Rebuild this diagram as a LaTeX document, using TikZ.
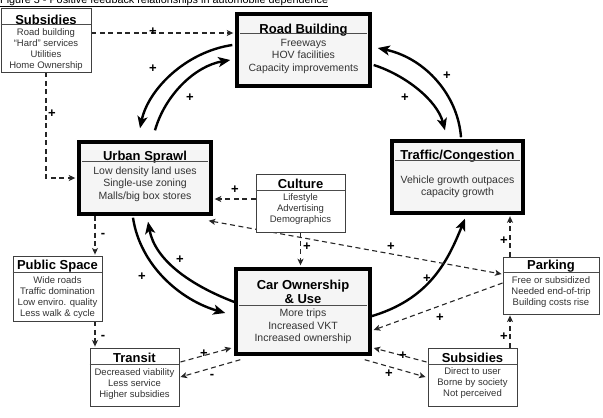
\documentclass[tikz,border=0pt]{standalone}
\usepackage{fontspec}
\setmainfont{Liberation Sans}
\usetikzlibrary{arrows.meta,calc}
\pgfdeclarelayer{bg}
\pgfsetlayers{bg,main}
\begin{document}
\begin{tikzpicture}[x=1pt,y=-1pt,
  bigbox/.style={draw=black, line width=3.4pt, fill=gray!8, inner sep=0pt},
  smbox/.style={draw=black!75, line width=0.9pt, fill=white, inner sep=0pt},
  ttl/.style={font=\bfseries\fontsize{13}{14}\selectfont, inner sep=0pt, align=center},
  bbody/.style={font=\fontsize{10.5}{12.5}\selectfont, text=black!80, inner sep=0pt, align=center},
  sbody/.style={font=\fontsize{9.5}{11}\selectfont, text=black!80, inner sep=0pt, align=center},
  hrule/.style={draw=black!70, line width=0.8pt},
  solidarrow/.style={line width=2.4pt, -{Stealth[length=12pt,width=10pt,inset=3pt]}},
  dasharrow/.style={line width=1.1pt, dash pattern=on 5pt off 3.5pt, draw=black!85, -{Stealth[length=6.5pt,width=6pt,inset=1.5pt]}},
  sign/.style={font=\bfseries\fontsize{13}{13}\selectfont, inner sep=0pt}
]
\useasboundingbox (0,0) rectangle (603,418);
\clip (0,0) rectangle (603,418);

% title (cut at top, as in the reference)
\node[anchor=base west, inner sep=0pt, font=\fontsize{10.5}{12}\selectfont] (fig) at (0,3)
  {\resizebox{328pt}{!}{\underline{Figure 3 - Positive feedback relationships in automobile dependence}}};

% ---------- big boxes ----------
\node[bigbox, minimum width=133pt, minimum height=72pt] (rb) at (303.5,50) {};
\node[ttl] (rbt) at (303.5,30) {Road Building};
\draw[hrule] ($(rb.north west)+(5,21.5)$) -- ($(rb.north east)+(-5,21.5)$);
\node[bbody] (rbb) at (303.5,56) {Freeways\\HOV facilities\\Capacity improvements};

\node[bigbox, minimum width=132pt, minimum height=72pt] (us) at (145,178) {};
\node[ttl] (ust) at (145,157) {Urban Sprawl};
\draw[hrule] ($(us.north west)+(5,21)$) -- ($(us.north east)+(-5,21)$);
\node[bbody] (usb) at (145,184) {Low density land uses\\Single-use zoning\\Malls/big box stores};

\node[bigbox, minimum width=131pt, minimum height=72pt] (tr) at (457.5,177) {};
\node[ttl] (trt) at (457.5,156.5) {Traffic/Congestion};
\draw[hrule] ($(tr.north west)+(5,21)$) -- ($(tr.north east)+(-5,21)$);
\node[bbody] (trb) at (457.5,187) {Vehicle growth outpaces\\capacity growth};

\node[bigbox, minimum width=134pt, minimum height=85pt] (car) at (303,311.5) {};
\node[ttl] (cart) at (303,291.5) {Car Ownership\\\& Use};
\draw[hrule] ($(car.north west)+(5,38)$) -- ($(car.north east)+(-5,38)$);
\node[bbody] (carb) at (303,326.5) {More trips\\Increased VKT\\Increased ownership};

% ---------- small boxes ----------
\node[smbox, minimum width=90pt, minimum height=64pt] (s1) at (46,40) {};
\node[ttl] (s1t) at (46,20) {Subsidies};
\draw[hrule] ($(s1.north west)+(0,17)$) -- ($(s1.north east)+(0,17)$);
\node[sbody] (s1b) at (46,49.5) {Road building\\``Hard'' services\\Utilities\\Home Ownership};

\node[smbox, minimum width=89pt, minimum height=58pt] (cu) at (300.5,203) {};
\node[ttl] (cut) at (300.5,184) {Culture};
\draw[hrule] ($(cu.north west)+(0,17)$) -- ($(cu.north east)+(0,17)$);
\node[sbody] (cub) at (300.5,209.5) {Lifestyle\\Advertising\\Demographics};

\node[smbox, minimum width=89pt, minimum height=65pt] (ps) at (57.5,288.5) {};
\node[ttl] (pst) at (57.5,266.5) {Public Space};
\draw[hrule] ($(ps.north west)+(0,17)$) -- ($(ps.north east)+(0,17)$);
\node[sbody] (psb) at (57.5,298) {Wide roads\\Traffic domination\\Low enviro. quality\\Less walk \& cycle};

\node[smbox, minimum width=89pt, minimum height=58pt] (tn) at (134.5,377) {};
\node[ttl] (tnt) at (134.5,357.5) {Transit};
\draw[hrule] ($(tn.north west)+(0,17)$) -- ($(tn.north east)+(0,17)$);
\node[sbody] (tnb) at (134.5,384.5) {Decreased viability\\Less service\\Higher subsidies};

\node[smbox, minimum width=96pt, minimum height=57pt] (pk) at (551,285.5) {};
\node[ttl] (pkt) at (551,266.5) {Parking};
\draw[hrule] ($(pk.north west)+(0,16)$) -- ($(pk.north east)+(0,16)$);
\node[sbody] (pkb) at (551,292.5) {Free or subsidized\\Needed end-of-trip\\Building costs rise};

\node[smbox, minimum width=89pt, minimum height=58pt] (s2) at (472.5,377) {};
\node[ttl] (s2t) at (472.5,357.5) {Subsidies};
\draw[hrule] ($(s2.north west)+(0,17)$) -- ($(s2.north east)+(0,17)$);
\node[sbody] (s2b) at (472.5,383.5) {Direct to user\\Borne by society\\Not perceived};

% ---------- connectors ----------
\begin{pgfonlayer}{bg}
% solid feedback loops
\draw[solidarrow] ([xshift=-3pt,yshift=5pt]rb.west) .. controls (185,52) and (148,90) .. ([xshift=-5pt,yshift=12pt]us.north);
\draw[solidarrow] ([xshift=10pt,yshift=10pt]us.north) .. controls (165,95) and (195,66) .. ([xshift=-5pt,yshift=-10pt]rb.west);
\draw[solidarrow] ([xshift=3.5pt,yshift=2pt]tr.north) .. controls (458,95) and (425,58) .. ([xshift=6pt,yshift=2pt]rb.east);
\draw[solidarrow] ([xshift=2pt,yshift=-15pt]rb.east) .. controls (405,75) and (437,100) .. ([xshift=-12.5pt,yshift=9pt]tr.north);
\draw[solidarrow] ([xshift=-12pt,yshift=-2pt]us.south) .. controls (140,265) and (180,300) .. ([xshift=-9pt,yshift=-1.5pt]car.west);
\draw[solidarrow] ([yshift=9.5pt]car.west) .. controls (190,285) and (155,260) .. ([xshift=3pt,yshift=-6pt]us.south);
\draw[solidarrow] ([xshift=-3pt,yshift=-5.5pt]car.east) .. controls (430,300) and (448,260) .. ([xshift=7.5pt,yshift=-4pt]tr.south);

% dashed influences
\draw[dasharrow] ([yshift=7pt]s1.east) -- ([xshift=-2pt,yshift=7pt]s1.east -| rb.west);
\draw[dasharrow] (s1.south) |- ([xshift=-2pt]us.west);
\draw[dasharrow] ([yshift=4pt]cu.west) -- ([xshift=2pt,yshift=4pt]cu.west -| us.east);
\draw[dasharrow, {Stealth[length=6.5pt,width=6pt,inset=1.5pt]}-{Stealth[length=6.5pt,width=6pt,inset=1.5pt]}] ([xshift=-4pt,yshift=-5pt]us.south east) -- ([xshift=-1pt,yshift=11.5pt]pk.west);
\draw[dasharrow] (cu.south) -- ([yshift=2pt]cu.south |- car.north);
\draw[dasharrow] ([yshift=2.5pt]pk.west) -- ([xshift=2pt,yshift=-18.5pt]car.east);
\draw[dasharrow] ([xshift=-41pt]pk.north) -- ([xshift=-41pt,yshift=-1.5pt]pk.north |- tr.south);
\draw[dasharrow] ([xshift=37.5pt]s2.north) -- ([xshift=37.5pt,yshift=-1pt]s2.north |- pk.south);
\draw[dasharrow] ([xshift=-1pt,yshift=15pt]s2.west) -- ([xshift=2pt,yshift=-36.5pt]car.east);
\draw[dasharrow] ([xshift=-7pt,yshift=-4pt]car.south east) -- ([xshift=-2pt]s2.west);
\draw[dasharrow] ([xshift=1pt,yshift=15pt]tn.east) -- ([xshift=-3pt,yshift=-36.5pt]car.west);
\draw[dasharrow] ([xshift=6pt,yshift=-4pt]car.south west) -- ([xshift=1pt]tn.east);
\draw[dasharrow] ([xshift=-50pt]us.south) -- ([xshift=-50pt,yshift=1pt]us.south |- ps.north);
\draw[dasharrow] ([xshift=37.5pt]ps.south) -- ([xshift=37.5pt,yshift=1pt]ps.south |- tn.north);
\end{pgfonlayer}

% ---------- signs ----------
\node[sign] (g1) at (153,32) {+};
\node[sign] (g2) at (52,114) {+};
\node[sign] (g3) at (153,69) {+};
\node[sign] (g4) at (190,98) {+};
\node[sign] (g5) at (447,76) {+};
\node[sign] (g6) at (405,98) {+};
\node[sign] (g7) at (235,190) {+};
\node[sign] (g8) at (142,277) {+};
\node[sign] (g9) at (180,260) {+};
\node[sign] (g10) at (307,247) {+};
\node[sign] (g11) at (391,247) {+};
\node[sign] (g12) at (427,279) {+};
\node[sign] (g13) at (504,241) {+};
\node[sign] (g14) at (440,318) {+};
\node[sign] (g15) at (504,337) {+};
\node[sign] (g16) at (403,356) {+};
\node[sign] (g17) at (389,374) {+};
\node[sign] (g18) at (204,354) {+};
\node[sign] (g19) at (212,376) {-};
\node[sign] (g20) at (103,235) {-};
\node[sign] (g21) at (103,337) {-};
\end{tikzpicture}
\end{document}
